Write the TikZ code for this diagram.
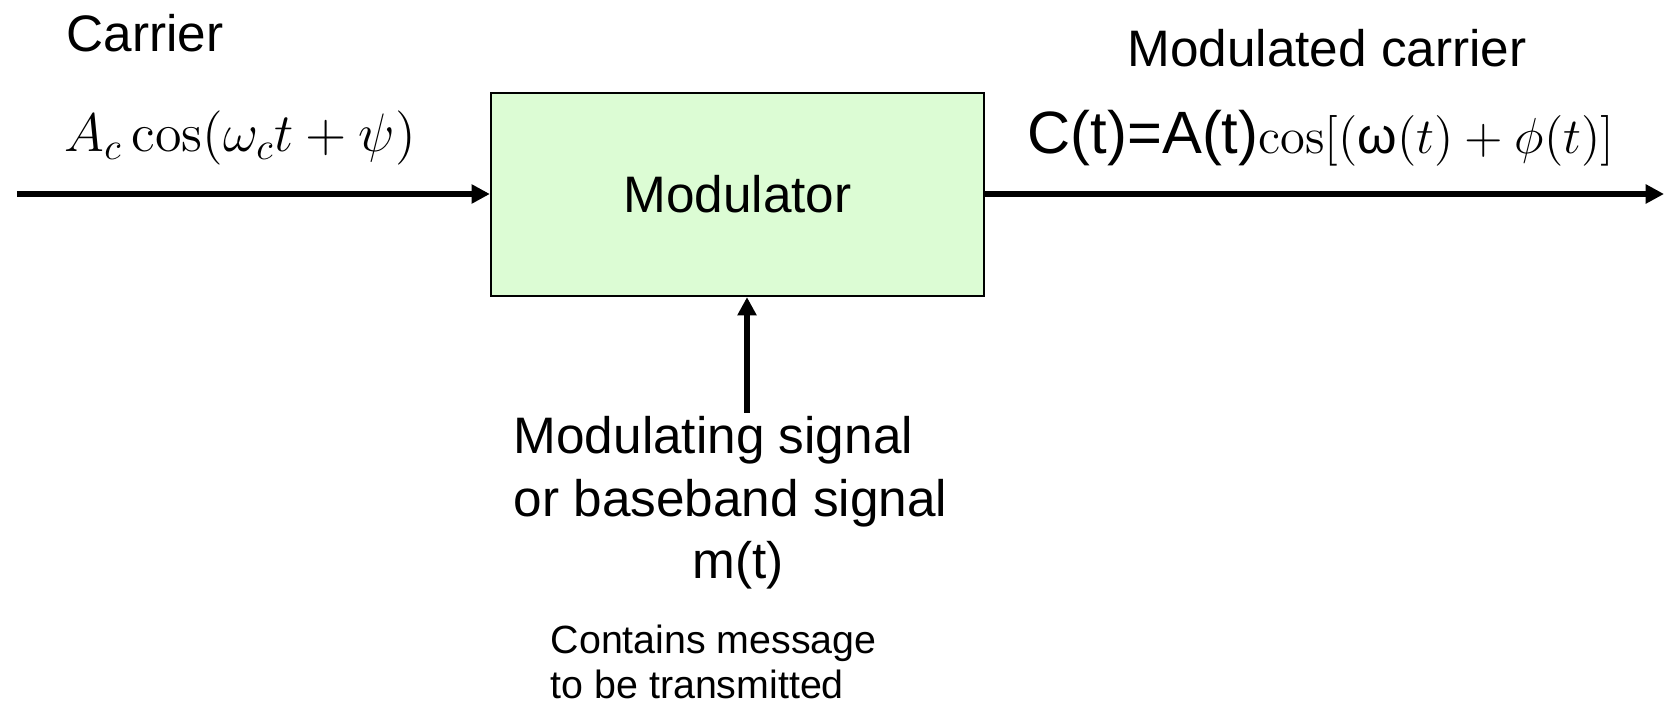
\documentclass[tikz,border=0pt]{standalone}
\usepackage[no-math]{fontspec}
\setmainfont{Liberation Sans}
\usepackage{tikz}
\usetikzlibrary{arrows.meta, positioning}
\definecolor{modfill}{HTML}{DCFCD4}

\begin{document}
\begin{tikzpicture}[
    font=\fontsize{14.6}{17.8}\selectfont,
    >={Triangle[length=5.2pt, width=5.2pt]},
    block/.style={draw=black, line width=0.65pt, fill=modfill, minimum width=4.93cm, minimum height=2.03cm, inner sep=0pt},
    lab/.style={inner sep=0pt, align=center},
    eq/.style={inner sep=0pt, font=\fontsize{14.4}{18}\selectfont},
    note/.style={inner sep=0pt, align=left, font=\fontsize{11.2}{12.8}\selectfont},
    sig/.style={->, line width=1.6pt},
  ]
  \useasboundingbox (0,0) rectangle (16.68,-7.02);
  % ---- the block
  \node[block] (mod) at (7.375,-1.945) {Modulator};
  % ---- ends of the signal lines
  \coordinate (cin) at (0.17,-1.94);
  \coordinate (cout) at (16.64,-1.94);
  \coordinate (msrc) at (7.47,-4.13);
  % ---- labels
  \node[lab, anchor=west] (carr) at (0.66,-0.33) {Carrier};
  \node[eq, anchor=west] (ceq) at (0.64,-1.38) {\scalebox{1.07}{$A_c\cos(\omega_c t+\psi)$}};
  \node[lab] (mcarr) at (13.27,-0.48) {Modulated carrier};
  \node[eq] (meq) at (13.21,-1.38) {{\fontsize{17}{18}\selectfont C(t)=A(t)}$\cos[(\textrm{ω}(t)+\phi(t)]$};
  \node[lab, align=left, anchor=west] (msig) at (5.13,-5.03) {Modulating signal\\or baseband signal\\\hspace*{1.79cm}m(t)};
  \node[note, anchor=west] (mnote) at (5.50,-6.615) {Contains message\\to be transmitted};
  % ---- arrows
  \draw[sig] (cin) -- (mod.west |- cin);
  \draw[sig] (mod.east |- cout) -- (cout);
  \draw[sig] (msrc) -- (msrc |- mod.south);
\end{tikzpicture}
\end{document}
